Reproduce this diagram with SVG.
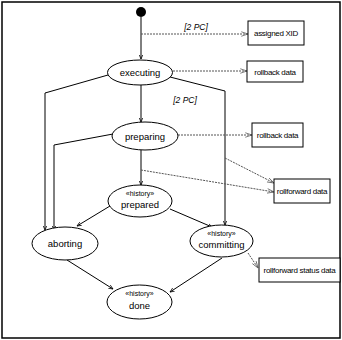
<svg xmlns="http://www.w3.org/2000/svg" width="342" height="340" viewBox="0 0 342 340">
  <defs>
    <marker id="arr" viewBox="0 0 8 8" refX="7" refY="4" markerWidth="5" markerHeight="5" orient="auto" markerUnits="userSpaceOnUse">
      <path d="M0,1 L7,4 L0,7" fill="none" stroke="#000" stroke-width="1.2"/>
    </marker>
    <marker id="dep" viewBox="0 0 10 8" refX="9" refY="4" markerWidth="8" markerHeight="6" orient="auto" markerUnits="userSpaceOnUse">
      <path d="M0,1 L9,4 L0,7" fill="none" stroke="#555" stroke-width="1"/>
    </marker>
  </defs>
  <style>
    .frame { fill: #fff; stroke: #000; stroke-width: 1.5; }
    .state { fill: #fff; stroke: #000; stroke-width: 1; }
    .box { fill: #fff; stroke: #000; stroke-width: 1; }
    .flow { fill: none; stroke: #000; stroke-width: 1; marker-end: url(#arr); }
    .dep { fill: none; stroke: #555; stroke-width: 1; stroke-dasharray: 2 1; marker-end: url(#dep); }
    text { font-family: "Liberation Sans", Arial, sans-serif; fill: #000; text-anchor: middle; }
    .name { font-size: 9.5px; }
    .stereo { font-size: 7px; }
    .data { font-size: 8px; letter-spacing: -0.3px; }
    .guard { font-size: 8.5px; font-style: italic; }
  </style>

  <rect class="frame" x="2" y="2" width="338" height="336"/>

  <!-- transitions and data dependencies -->
  <g id="connectors">
    <line class="flow" x1="141" y1="17" x2="141" y2="59"/>
    <line class="flow" x1="141" y1="85" x2="141" y2="122"/>
    <line class="flow" x1="141" y1="150" x2="141" y2="185"/>
    <polyline class="flow" points="108,75 45,93 45,230"/>
    <polyline class="flow" points="113,134 54,145 54,230"/>
    <polyline class="flow" points="170,77 225,91 225,225"/>
    <line class="flow" x1="110" y1="206" x2="77" y2="226"/>
    <line class="flow" x1="170" y1="209" x2="212" y2="227"/>
    <line class="flow" x1="67" y1="260" x2="113" y2="289"/>
    <line class="flow" x1="222" y1="258" x2="170" y2="292"/>

    <line class="dep" x1="141" y1="34" x2="248" y2="34"/>
    <line class="dep" x1="173" y1="71" x2="247" y2="71"/>
    <line class="dep" x1="178" y1="135" x2="252" y2="135"/>
    <line class="dep" x1="141" y1="170" x2="274" y2="192"/>
    <line class="dep" x1="225" y1="158" x2="274" y2="183"/>
    <line class="dep" x1="248" y1="253" x2="258" y2="268"/>

    <text class="guard" x="196" y="30">[2 PC]</text>
    <text class="guard" x="185" y="103">[2 PC]</text>
  </g>

  <g id="initial">
    <circle cx="141" cy="12" r="5" fill="#000"/>
  </g>

  <g id="executing">
    <ellipse class="state" cx="140" cy="72.5" rx="32.5" ry="12.5"/>
    <text class="name" x="140" y="76">executing</text>
  </g>

  <g id="preparing">
    <ellipse class="state" cx="145" cy="136" rx="33" ry="14"/>
    <text class="name" x="145" y="139.5">preparing</text>
  </g>

  <g id="prepared">
    <ellipse class="state" cx="140" cy="201" rx="32" ry="16"/>
    <text class="stereo" x="140" y="196">«history»</text>
    <text class="name" x="140" y="208">prepared</text>
  </g>

  <g id="aborting">
    <ellipse class="state" cx="65" cy="243.5" rx="33" ry="16.5"/>
    <text class="name" x="65" y="247">aborting</text>
  </g>

  <g id="committing">
    <ellipse class="state" cx="221.5" cy="241" rx="31.5" ry="16"/>
    <text class="stereo" x="221.5" y="236">«history»</text>
    <text class="name" x="221.5" y="248">committing</text>
  </g>

  <g id="done">
    <ellipse class="state" cx="139.5" cy="302" rx="32.5" ry="17"/>
    <text class="stereo" x="139.5" y="296">«history»</text>
    <text class="name" x="139.5" y="309">done</text>
  </g>

  <g id="assigned-xid">
    <rect class="box" x="248" y="21" width="56" height="24"/>
    <text class="data" x="276" y="36">assigned XID</text>
  </g>

  <g id="rollback-data-1">
    <rect class="box" x="247" y="61" width="56" height="21"/>
    <text class="data" x="275" y="74.5">rollback data</text>
  </g>

  <g id="rollback-data-2">
    <rect class="box" x="252" y="123" width="51" height="24"/>
    <text class="data" x="277.5" y="138">rollback data</text>
  </g>

  <g id="rollforward-data">
    <rect class="box" x="274" y="179" width="56" height="24"/>
    <text class="data" x="302" y="194">rollforward data</text>
  </g>

  <g id="rollforward-status-data">
    <rect class="box" x="259" y="258" width="81" height="24"/>
    <text class="data" x="299.5" y="273">rollforward status data</text>
  </g>
</svg>
